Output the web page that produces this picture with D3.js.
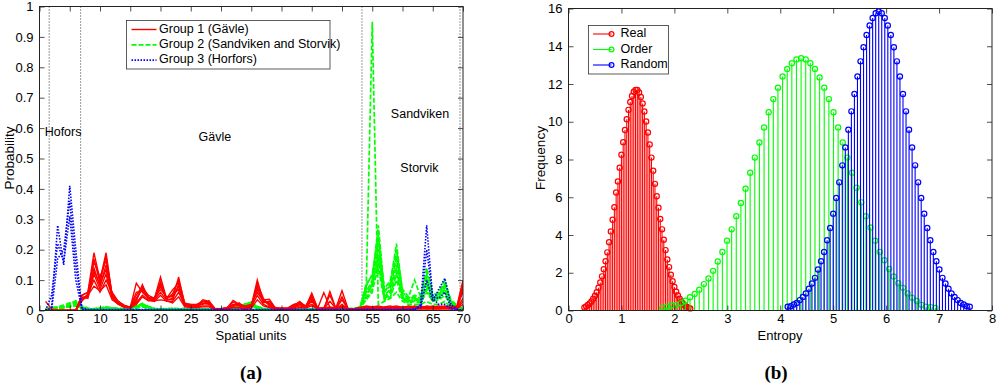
<!DOCTYPE html>
<html>
<head>
<meta charset="utf-8">
<script src="https://cdn.jsdelivr.net/npm/d3@7"></script>
<style>
  body { margin: 0; background: #fff; }
  svg { display: block; }
</style>
</head>
<body>
<svg id="chart" width="1000" height="391"></svg>
<script>
// ---------- panel (a): probability per spatial unit ----------
const units = d3.range(1, 71);
const xTicksA = [0, 5, 10, 15, 20, 25, 30, 35, 40, 45, 50, 55, 60, 65, 70];
const yTicksA = [0, 0.1, 0.2, 0.3, 0.4, 0.5, 0.6, 0.7, 0.8, 0.9, 1];
const legendA = ['Group 1 (Gävle)', 'Group 2 (Sandviken and Storvik)', 'Group 3 (Horfors)'];
const regionBounds = [1.6, 6.8, 53.3, 69.5];
const regionNames = ['Hofors', 'Gävle', 'Sandviken', 'Storvik'];

// group 1 (Gävle), one array per line
const gavle = [
  [0.03,0.005,0,0,0,0.002,0.05,0.06,0.19,0.1,
   0.19,0.05,0.03,0.015,0.01,0.04,0.07,0.045,0.04,0.11,
   0.04,0.05,0.07,0.02,0.015,0.02,0.03,0.025,0.005,0.005,
   0.01,0.02,0.015,0.01,0.015,0.10,0.03,0.02,0.01,0.005,
   0.005,0.01,0.02,0.01,0.03,0.005,0.01,0.01,0.005,0.02,
   0.005,0.005,0.01,0.01,0.008,0.006,0.01,0.012,0.01,0.008,
   0.01,0.015,0.01,0.012,0.01,0.012,0.015,0.01,0.015,0.1],
  [0,0,0,0,0,0.001,0.04,0.05,0.17,0.09,
   0.18,0.05,0.025,0.012,0.01,0.09,0.06,0.04,0.035,0.06,
   0.035,0.04,0.11,0.02,0.02,0.015,0.035,0.03,0.006,0.005,
   0.008,0.033,0.02,0.012,0.018,0.07,0.035,0.037,0.008,0.006,
   0.006,0.012,0.03,0.012,0.057,0.006,0.005,0.062,0.006,0.01,
   0.004,0.005,0.008,0.012,0.01,0.008,0.012,0.015,0.008,0.01,
   0.012,0.01,0.012,0.01,0.015,0.01,0.012,0.008,0.012,0.06],
  [0,0,0,0,0,0,0.035,0.045,0.14,0.08,
   0.15,0.045,0.03,0.015,0.008,0.03,0.085,0.04,0.04,0.08,
   0.04,0.068,0.09,0.018,0.015,0.018,0.02,0.032,0.005,0.006,
   0.006,0.015,0.025,0.008,0.012,0.09,0.04,0.015,0.006,0.008,
   0.008,0.02,0.025,0.015,0.045,0.008,0.059,0.01,0.008,0.065,
   0.006,0.004,0.006,0.008,0.006,0.012,0.008,0.01,0.012,0.006,
   0.008,0.012,0.008,0.015,0.012,0.008,0.01,0.012,0.01,0.08],
  [0,0,0,0,0,0,0.045,0.04,0.12,0.07,
   0.12,0.04,0.02,0.012,0.012,0.025,0.05,0.035,0.03,0.05,
   0.03,0.03,0.06,0.015,0.012,0.012,0.015,0.015,0.005,0.004,
   0.005,0.012,0.01,0.006,0.01,0.05,0.02,0.012,0.005,0.005,
   0.005,0.008,0.015,0.01,0.02,0.006,0.006,0.008,0.005,0.012,
   0.005,0.005,0.005,0.006,0.005,0.006,0.006,0.008,0.006,0.005,
   0.006,0.008,0.006,0.008,0.006,0.006,0.008,0.006,0.008,0.04],
  [0,0,0,0,0,0,0.03,0.055,0.1,0.06,
   0.1,0.06,0.03,0.018,0.01,0.035,0.075,0.05,0.04,0.07,
   0.045,0.045,0.08,0.022,0.02,0.02,0.025,0.02,0.006,0.005,
   0.007,0.02,0.02,0.015,0.02,0.06,0.03,0.025,0.008,0.007,
   0.007,0.015,0.02,0.012,0.035,0.008,0.008,0.012,0.008,0.015,
   0.006,0.006,0.008,0.01,0.012,0.01,0.008,0.006,0.01,0.012,
   0.01,0.008,0.01,0.006,0.008,0.012,0.01,0.008,0.006,0.02],
  [0,0,0,0,0,0,0.04,0.05,0.08,0.065,
   0.085,0.035,0.022,0.01,0.008,0.02,0.045,0.032,0.032,0.035,
   0.032,0.025,0.045,0.012,0.01,0.01,0.012,0.012,0.004,0.004,
   0.004,0.01,0.008,0.005,0.008,0.035,0.015,0.01,0.004,0.004,
   0.004,0.006,0.01,0.008,0.015,0.005,0.005,0.006,0.004,0.01,
   0.004,0.004,0.004,0.005,0.004,0.005,0.005,0.006,0.005,0.004,
   0.005,0.006,0.005,0.006,0.005,0.005,0.006,0.005,0.006,0.03],
  [0,0,0,0,0,0,0.05,0.06,0.16,0.11,
   0.165,0.055,0.028,0.016,0.012,0.06,0.065,0.042,0.038,0.095,
   0.038,0.055,0.1,0.025,0.018,0.016,0.03,0.028,0.007,0.006,
   0.009,0.028,0.018,0.012,0.016,0.08,0.025,0.03,0.007,0.006,
   0.006,0.018,0.028,0.014,0.05,0.007,0.007,0.05,0.006,0.045,
   0.005,0.005,0.01,0.015,0.012,0.015,0.01,0.012,0.015,0.01,
   0.015,0.012,0.015,0.01,0.012,0.015,0.012,0.015,0.01,0.09],
  [0,0,0,0,0,0,0.038,0.048,0.13,0.085,
   0.135,0.048,0.026,0.014,0.01,0.05,0.08,0.038,0.036,0.09,
   0.036,0.035,0.085,0.016,0.014,0.014,0.022,0.022,0.005,0.005,
   0.006,0.018,0.022,0.01,0.014,0.075,0.035,0.02,0.006,0.006,
   0.006,0.012,0.022,0.012,0.04,0.006,0.006,0.03,0.006,0.035,
   0.005,0.005,0.007,0.009,0.008,0.01,0.009,0.01,0.008,0.009,
   0.009,0.01,0.009,0.012,0.009,0.01,0.009,0.01,0.012,0.07]
];

// group 2 (Sandviken and Storvik)
const sandviken = [
  [0.005,0.008,0.01,0.015,0.02,0.03,0.01,0.005,0.005,0.008,
   0.01,0.008,0.006,0.005,0.008,0.012,0.02,0.01,0.005,0.004,
   0.004,0.005,0.004,0.005,0.004,0.003,0.004,0.003,0.004,0.004,
   0.005,0.008,0.012,0.018,0.025,0.01,0.005,0.004,0.003,0.004,
   0.003,0.004,0.003,0.004,0.003,0.004,0.003,0.004,0.003,0.004,
   0.004,0.005,0.01,0.06,0.1,0.28,0.06,0.09,0.22,0.06,
   0.04,0.05,0.04,0.14,0.05,0.06,0.1,0.03,0.015,0.005],
  [0.003,0.005,0.008,0.012,0.015,0.02,0.008,0.004,0.004,0.006,
   0.008,0.006,0.005,0.004,0.006,0.01,0.015,0.008,0.004,0.003,
   0.003,0.004,0.003,0.004,0.003,0.003,0.003,0.003,0.003,0.003,
   0.004,0.006,0.01,0.014,0.02,0.008,0.004,0.003,0.003,0.003,
   0.003,0.003,0.003,0.003,0.003,0.003,0.003,0.003,0.003,0.003,
   0.003,0.004,0.008,0.05,0.09,0.22,0.05,0.07,0.18,0.05,
   0.035,0.04,0.035,0.11,0.04,0.05,0.08,0.025,0.012,0.004],
  [0.004,0.006,0.009,0.01,0.018,0.025,0.012,0.006,0.005,0.007,
   0.009,0.007,0.006,0.005,0.007,0.014,0.018,0.012,0.006,0.005,
   0.005,0.006,0.005,0.006,0.005,0.004,0.005,0.004,0.005,0.005,
   0.006,0.01,0.015,0.02,0.022,0.012,0.006,0.005,0.004,0.005,
   0.004,0.005,0.004,0.005,0.004,0.005,0.004,0.005,0.004,0.005,
   0.005,0.006,0.01,0.07,0.08,0.18,0.04,0.06,0.15,0.04,
   0.03,0.035,0.03,0.08,0.035,0.04,0.07,0.02,0.01,0.004],
  [0.002,0.004,0.006,0.008,0.012,0.015,0.006,0.003,0.003,0.004,
   0.006,0.005,0.004,0.003,0.004,0.008,0.012,0.006,0.003,0.002,
   0.002,0.003,0.002,0.003,0.002,0.002,0.002,0.002,0.002,0.002,
   0.003,0.005,0.008,0.01,0.015,0.006,0.003,0.002,0.002,0.002,
   0.002,0.002,0.002,0.002,0.002,0.002,0.002,0.002,0.002,0.002,
   0.002,0.003,0.006,0.04,0.07,0.14,0.035,0.045,0.1,0.035,
   0.025,0.03,0.025,0.06,0.03,0.035,0.05,0.015,0.008,0.003],
  [0.006,0.01,0.012,0.018,0.025,0.028,0.015,0.008,0.006,0.009,
   0.012,0.009,0.007,0.006,0.009,0.015,0.022,0.014,0.007,0.006,
   0.006,0.007,0.006,0.007,0.006,0.005,0.006,0.005,0.006,0.006,
   0.007,0.012,0.018,0.022,0.024,0.014,0.007,0.006,0.005,0.006,
   0.005,0.006,0.005,0.006,0.005,0.006,0.005,0.006,0.005,0.006,
   0.006,0.007,0.012,0.08,0.12,0.24,0.07,0.1,0.2,0.07,
   0.045,0.1,0.045,0.12,0.045,0.055,0.09,0.035,0.018,0.006],
  [0.003,0.006,0.008,0.01,0.016,0.022,0.01,0.005,0.004,0.006,
   0.008,0.006,0.005,0.004,0.006,0.01,0.016,0.009,0.005,0.004,
   0.004,0.005,0.004,0.005,0.004,0.003,0.004,0.003,0.004,0.004,
   0.005,0.008,0.012,0.016,0.018,0.01,0.005,0.004,0.003,0.004,
   0.003,0.004,0.003,0.004,0.003,0.004,0.003,0.004,0.003,0.004,
   0.004,0.005,0.009,0.045,0.085,0.2,0.045,0.065,0.13,0.045,
   0.03,0.04,0.035,0.09,0.035,0.045,0.075,0.02,0.01,0.004],
  [0.004,0.007,0.01,0.014,0.022,0.032,0.012,0.006,0.005,0.007,
   0.01,0.008,0.006,0.005,0.008,0.013,0.024,0.011,0.006,0.005,
   0.005,0.006,0.005,0.006,0.005,0.004,0.005,0.004,0.005,0.005,
   0.006,0.009,0.014,0.02,0.028,0.011,0.006,0.005,0.004,0.005,
   0.004,0.005,0.004,0.005,0.004,0.005,0.004,0.005,0.004,0.005,
   0.005,0.006,0.011,0.09,0.11,0.25,0.065,0.08,0.17,0.055,
   0.04,0.045,0.04,0.1,0.04,0.05,0.085,0.03,0.012,0.005],
  [0.003,0.005,0.007,0.01,0.013,0.018,0.008,0.004,0.004,0.005,
   0.007,0.005,0.004,0.004,0.005,0.009,0.013,0.007,0.004,0.003,
   0.003,0.004,0.003,0.004,0.003,0.003,0.003,0.003,0.003,0.003,
   0.004,0.007,0.01,0.012,0.017,0.008,0.004,0.003,0.003,0.003,
   0.003,0.003,0.003,0.003,0.003,0.003,0.003,0.003,0.003,0.003,
   0.003,0.004,0.007,0.035,0.06,0.16,0.04,0.05,0.12,0.04,
   0.028,0.032,0.028,0.07,0.03,0.04,0.06,0.018,0.009,0.003],
  [0.002,0.002,0.002,0.002,0.002,0.002,0.002,0.002,0.002,0.002,
   0.002,0.002,0.002,0.002,0.002,0.002,0.002,0.002,0.002,0.002,
   0.002,0.002,0.002,0.002,0.002,0.002,0.002,0.002,0.002,0.002,
   0.002,0.002,0.002,0.002,0.002,0.002,0.002,0.002,0.002,0.002,
   0.002,0.002,0.002,0.002,0.002,0.002,0.002,0.002,0.002,0.002,
   0.002,0.003,0.005,0.07,0.95,0.02,0.03,0.04,0.06,0.03,
   0.02,0.02,0.02,0.03,0.02,0.02,0.03,0.01,0.005,0.002]
];

// group 3 (Hofors)
const hofors = [
  [0,0.01,0.28,0.15,0.41,0.2,0.002,0.002,0.002,0.002,
   0.002,0.002,0.002,0.002,0.002,0.002,0.002,0.002,0.002,0.002,
   0.002,0.002,0.002,0.002,0.002,0.002,0.002,0.002,0.002,0.002,
   0.002,0.002,0.002,0.002,0.002,0.002,0.002,0.002,0.002,0.002,
   0.002,0.002,0.002,0.002,0.002,0.002,0.002,0.002,0.002,0.002,
   0.002,0.002,0.002,0.002,0.002,0.002,0.002,0.002,0.002,0.002,
   0.002,0.002,0.02,0.28,0.04,0.02,0.02,0.005,0.002,0],
  [0,0,0.17,0.2,0.36,0.15,0.01,0.003,0.003,0.003,
   0.003,0.003,0.003,0.003,0.003,0.003,0.003,0.003,0.003,0.003,
   0.003,0.003,0.003,0.003,0.003,0.003,0.003,0.003,0.003,0.003,
   0.003,0.003,0.003,0.003,0.003,0.003,0.003,0.003,0.003,0.003,
   0.003,0.003,0.003,0.003,0.003,0.003,0.003,0.003,0.003,0.003,
   0.003,0.003,0.003,0.003,0.003,0.003,0.003,0.003,0.003,0.003,
   0.003,0.004,0.01,0.1,0.03,0.07,0.106,0.02,0.005,0],
  [0,0.05,0.22,0.16,0.31,0.1,0.005,0.001,0.001,0.001,
   0.001,0.001,0.001,0.001,0.001,0.001,0.001,0.001,0.001,0.001,
   0.001,0.001,0.001,0.001,0.001,0.001,0.001,0.001,0.001,0.001,
   0.001,0.001,0.001,0.001,0.001,0.001,0.001,0.001,0.001,0.001,
   0.001,0.001,0.001,0.001,0.001,0.001,0.001,0.001,0.001,0.001,
   0.001,0.001,0.001,0.001,0.001,0.001,0.001,0.001,0.001,0.001,
   0.002,0.004,0.015,0.2,0.045,0.04,0.06,0.01,0.003,0]
];

// ---------- panel (b): entropy histograms ----------
const xTicksB = [0, 1, 2, 3, 4, 5, 6, 7, 8];
const yTicksB = [0, 2, 4, 6, 8, 10, 12, 14, 16];
const legendB = ['Real', 'Order', 'Random'];

const realRange = [0.30, 2.30];
const realFreq = [
  0.16,0.22,0.29,0.37,0.48,0.62,0.78,0.97,1.21,1.49,
  1.81,2.19,2.61,3.08,3.62,4.19,4.81,5.47,6.25,6.84,
  7.56,8.25,8.92,9.56,10.13,10.63,11.05,11.37,11.59,11.69,
  11.68,11.55,11.31,10.97,10.54,10.01,9.43,8.80,8.10,7.41,
  6.71,6.05,5.45,4.85,4.30,3.75,3.20,2.70,2.30,1.90,
  1.55,1.25,1.00,0.80,0.62,0.48,0.36,0.27,0.20,0.15,
  0.11
];

const orderRange = [1.77, 6.93];
const orderFreq = [
  0.14,0.2,0.27,0.3,0.38,0.52,0.7,0.88,1.1,1.4,
  1.7,2.1,2.6,3.1,3.7,4.3,5.0,5.7,6.45,7.3,
  8.1,8.9,9.7,10.5,11.2,11.8,12.4,12.8,13.1,13.3,
  13.37,13.3,13.1,12.8,12.35,11.8,11.2,10.5,9.7,8.9,
  8.1,7.3,6.5,5.73,5.0,4.4,3.7,3.1,2.66,2.2,
  1.8,1.45,1.2,0.9,0.67,0.5,0.3,0.2,0.18,0.13
];

const randomRange = [4.14, 7.58];
const randomFreq = [
  0.2,0.23,0.32,0.4,0.55,0.72,0.9,1.15,1.43,1.73,
  2.17,2.61,3.1,3.72,4.37,5.13,5.96,6.79,7.69,8.64,
  9.58,10.55,11.47,12.4,13.2,13.95,14.6,15.1,15.5,15.75,
  15.84,15.75,15.5,15.1,14.6,13.95,13.2,12.4,11.47,10.55,
  9.58,8.64,7.69,6.79,5.96,5.13,4.37,3.72,3.1,2.61,
  2.17,1.73,1.43,1.15,0.9,0.72,0.55,0.4,0.32,0.23,
  0.2
];

// ---------- drawing ----------
const FONT = '"Liberation Sans", Arial, Helvetica, sans-serif';
const svg = d3.select('#chart');
svg.append('rect').attr('width', 1000).attr('height', 391).attr('fill', '#fff');

const xA = d3.scaleLinear().domain([0, 70]).range([39.5, 463]);
const yA = d3.scaleLinear().domain([0, 1]).range([310.5, 6.5]);
const xB = d3.scaleLinear().domain([0, 8]).range([568.5, 992]);
const yB = d3.scaleLinear().domain([0, 16]).range([310.5, 8.5]);

function drawFrame(x, y, xTicks, yTicks) {
  const g = svg.append('g');
  const [x0, x1] = x.range();
  const [y0, y1] = y.range();
  const fix = a => a.selectAll('.domain').remove();

  g.append('g').attr('transform', `translate(0,${y0})`)
    .call(d3.axisBottom(x).tickValues(xTicks).tickSizeInner(-5).tickSizeOuter(0).tickPadding(3).tickFormat(d3.format('')))
    .call(fix);
  g.append('g').attr('transform', `translate(0,${y1})`)
    .call(d3.axisTop(x).tickValues(xTicks).tickSizeInner(-5).tickSizeOuter(0).tickFormat(''))
    .call(fix);
  g.append('g').attr('transform', `translate(${x0},0)`)
    .call(d3.axisLeft(y).tickValues(yTicks).tickSizeInner(-5).tickSizeOuter(0).tickPadding(6).tickFormat(d3.format('')))
    .call(fix);
  g.append('g').attr('transform', `translate(${x1},0)`)
    .call(d3.axisRight(y).tickValues(yTicks).tickSizeInner(-5).tickSizeOuter(0).tickFormat(''))
    .call(fix);

  g.selectAll('.tick line').attr('stroke', '#222').attr('stroke-width', 0.8);
  g.selectAll('.tick text').attr('fill', '#000').style('font-family', FONT).style('font-size', '13px');

  g.append('rect')
    .attr('x', x0).attr('y', y1).attr('width', x1 - x0).attr('height', y0 - y1)
    .attr('fill', 'none').attr('stroke', '#222').attr('stroke-width', 1);
  return g;
}

function addText(x, y, str, opts = {}) {
  const t = svg.append('text')
    .attr('x', x).attr('y', y)
    .attr('text-anchor', opts.anchor || 'middle')
    .attr('dominant-baseline', 'middle')
    .style('font-family', opts.family || FONT)
    .style('font-size', (opts.size || 12) + 'px')
    .style('font-weight', opts.weight || 'normal')
    .attr('fill', '#000')
    .text(str);
  if (opts.rotate) t.attr('transform', `rotate(-90,${x},${y})`);
  return t;
}

// ----- panel (a)
svg.append('clipPath').attr('id', 'clipA').append('rect')
  .attr('x', 39.5).attr('y', 6.5).attr('width', 463 - 39.5).attr('height', 304);

const plotA = svg.append('g').attr('clip-path', 'url(#clipA)');

plotA.selectAll('line.region').data(regionBounds).join('line')
  .attr('class', 'region')
  .attr('x1', d => xA(d)).attr('x2', d => xA(d))
  .attr('y1', yA(0)).attr('y2', yA(1))
  .attr('stroke', '#000').attr('stroke-width', 0.8).attr('stroke-dasharray', '1,2');

const lineA = d3.line().x((d, i) => xA(units[i])).y(d => yA(d));

const styleA = [
  {data: sandviken, color: '#00ff00', dash: '5,2', width: 1.7},
  {data: gavle, color: '#ff0000', dash: null, width: 1.4},
  {data: hofors, color: '#0000ff', dash: '1.5,1.5', width: 1.6}
];
styleA.forEach(s => {
  plotA.append('g').selectAll('path').data(s.data).join('path')
    .attr('d', lineA)
    .attr('fill', 'none')
    .attr('stroke', s.color)
    .attr('stroke-width', s.width)
    .attr('stroke-dasharray', s.dash);
});

drawFrame(xA, yA, xTicksA, yTicksA);

// region names
const regionPos = [[3.9, 0.585], [29, 0.567], [62.9, 0.643], [62.8, 0.468]];
regionNames.forEach((n, i) => addText(xA(regionPos[i][0]), yA(regionPos[i][1]), n, {size: 12.5}));

// legend (a)
const legA = svg.append('g').attr('transform', 'translate(126.5,20.5)');
legA.append('rect').attr('width', 203.5).attr('height', 48.5)
  .attr('fill', '#fff').attr('stroke', '#333').attr('stroke-width', 0.8);
const legStyleA = [styleA[1], styleA[0], styleA[2]];
legendA.forEach((name, i) => {
  const yy = 9 + i * 15.3;
  legA.append('line').attr('x1', 5).attr('x2', 30).attr('y1', yy).attr('y2', yy)
    .attr('stroke', legStyleA[i].color).attr('stroke-width', legStyleA[i].width)
    .attr('stroke-dasharray', legStyleA[i].dash);
  legA.append('text').attr('x', 32.5).attr('y', yy).attr('dominant-baseline', 'middle')
    .style('font-family', FONT).style('font-size', '12.5px').text(name);
});

addText(10, 158, 'Probability', {size: 13.5, rotate: true});
addText(251, 337, 'Spatial units', {size: 13});
addText(251, 375, '(a)', {size: 19, weight: 'bold', family: '"Liberation Serif", "Times New Roman", serif'});

// ----- panel (b)
const seriesB = [
  {name: 'Real', range: realRange, freq: realFreq, color: '#ff0000'},
  {name: 'Order', range: orderRange, freq: orderFreq, color: '#00ff00'},
  {name: 'Random', range: randomRange, freq: randomFreq, color: '#0000ff'}
];

const plotB = svg.append('g');
seriesB.forEach(s => {
  const step = (s.range[1] - s.range[0]) / (s.freq.length - 1);
  const pts = s.freq.map((v, i) => ({x: s.range[0] + i * step, y: v}));
  const g = plotB.append('g');
  g.selectAll('line').data(pts).join('line')
    .attr('x1', d => xB(d.x)).attr('x2', d => xB(d.x))
    .attr('y1', yB(0)).attr('y2', d => yB(d.y))
    .attr('stroke', s.color).attr('stroke-width', 1.1);
  g.selectAll('circle').data(pts).join('circle')
    .attr('cx', d => xB(d.x)).attr('cy', d => yB(d.y)).attr('r', 2.6)
    .attr('fill', 'none').attr('stroke', s.color).attr('stroke-width', 1.2);
});

drawFrame(xB, yB, xTicksB, yTicksB);

// legend (b)
const legB = svg.append('g').attr('transform', 'translate(588.5,25.5)');
legB.append('rect').attr('width', 80).attr('height', 48.5)
  .attr('fill', '#fff').attr('stroke', '#333').attr('stroke-width', 0.8);
legendB.forEach((name, i) => {
  const yy = 8.5 + i * 15.5;
  legB.append('line').attr('x1', 4.5).attr('x2', 23).attr('y1', yy).attr('y2', yy)
    .attr('stroke', seriesB[i].color).attr('stroke-width', 1.1);
  legB.append('circle').attr('cx', 23).attr('cy', yy).attr('r', 2.4)
    .attr('fill', 'none').attr('stroke', seriesB[i].color).attr('stroke-width', 1.2);
  legB.append('text').attr('x', 32).attr('y', yy).attr('dominant-baseline', 'middle')
    .style('font-family', FONT).style('font-size', '12.5px').text(name);
});

addText(541, 158, 'Frequency', {size: 13.5, rotate: true});
addText(780, 337, 'Entropy', {size: 13});
addText(776, 375, '(b)', {size: 19, weight: 'bold', family: '"Liberation Serif", "Times New Roman", serif'});
</script>
</body>
</html>
